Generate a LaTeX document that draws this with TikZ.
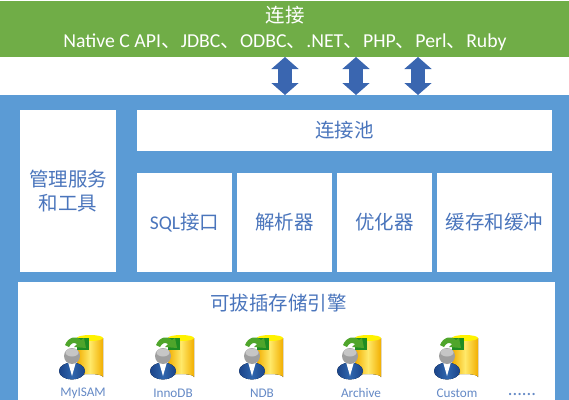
\documentclass[tikz,border=0pt]{standalone}
\usepackage{fontspec}
\setmainfont{Carlito}
\newfontfamily\cjk{Noto Sans CJK SC}
\usetikzlibrary{arrows.meta, positioning}
\definecolor{linkgreen}{HTML}{70AD47}
\definecolor{panelblue}{HTML}{5B9BD5}
\definecolor{titleblue}{HTML}{4A75BC}
\definecolor{arrowblue}{HTML}{3A66B0}
\definecolor{iconedge}{HTML}{F2AE00}
\definecolor{iconmid}{HTML}{FFE96A}
\definecolor{iconarrow}{HTML}{4FA52B}
\definecolor{iconsquare}{HTML}{1E8C22}
\definecolor{iconbody}{HTML}{2F66AE}
\definecolor{iconbodydark}{HTML}{1C4488}
\tikzstyle{banner} = [rectangle, anchor=north west, fill=linkgreen, minimum width=426.75pt, minimum height=42pt, inner sep=0pt, outer sep=0pt]
\tikzstyle{panel} = [rectangle, anchor=north west, fill=panelblue, minimum width=426.75pt, minimum height=228.75pt, inner sep=0pt, outer sep=0pt]
\tikzstyle{cell} = [rectangle, fill=white, text=titleblue, font=\fontsize{14.6pt}{18pt}\selectfont\cjk, align=center, inner sep=0pt, outer sep=0pt, minimum height=74.25pt, minimum width=71.25pt]
\tikzstyle{title} = [text=titleblue, font=\fontsize{14.6pt}{18pt}\selectfont\cjk, inner sep=0pt]
\tikzstyle{engine} = [text=titleblue!85, font=\fontsize{9.9pt}{12pt}\selectfont, inner sep=0pt]
\tikzstyle{arrow} = [arrowblue, line width=10pt, {Triangle[length=9pt,width=20pt]}-{Triangle[length=9pt,width=20pt]}]
\tikzset{
  dbicon/.pic={
    % cylinder
    \fill[left color=iconedge, right color=iconedge, middle color=iconmid] (18,3) -- (18,42) arc[start angle=180, end angle=360, x radius=13, y radius=3] -- (44,3) -- cycle;
    \fill[yellow] (31,3) ellipse (13 and 3);
    % green arrow
    \fill[iconsquare] (18,3) rectangle (30,15);
    \fill[iconarrow] (6,10) .. controls (9,2) and (18,0) .. (22,5) -- (25,3) -- (27,13) -- (15,12) -- (18,9) .. controls (15,7) and (12,8) .. (10,12) -- cycle;
    % person
    \fill[left color=iconbodydark, right color=iconbodydark, middle color=iconbody] (13,36) ellipse (13 and 8.5);
    \fill[white] (9,27) -- (17,27) -- (13,41) -- cycle;
    \fill[gray!75] (13,21) circle (8);
    \fill[gray!45] (13,17.5) ellipse (6.5 and 4);
  }
}
\begin{document}
\begin{tikzpicture}[x=0.75pt, y=-0.75pt]
        \useasboundingbox (0,0) rectangle (569,400);
        % Top band and main panel
        \node[banner] (client) at (0,1) {};
        \node[panel] (server) at (0,95) {};
        \node[white, font=\fontsize{14.6pt}{18pt}\selectfont\cjk, inner sep=0pt] (clienttitle) at (285,15) {连接};
        \node[white, font=\fontsize{14.8pt}{18pt}\selectfont, inner sep=0pt] (drivers) at (285,42) {Native C API{\cjk 、}JDBC{\cjk 、}ODBC{\cjk 、}.NET{\cjk 、}PHP{\cjk 、}Perl{\cjk 、}Ruby};

        \node[cell, anchor=north west, minimum width=72pt, minimum height=121.5pt] (manage) at (20,110) {管理服务\\和工具};
        \node[cell, anchor=north west, minimum width=311.25pt, minimum height=30.75pt] (pool) at (137,110) {连接池};
        \node[cell, below=16.5pt of pool.south west, anchor=north west] (sql) {{\fontspec{Carlito}SQL}接口};
        \node[cell, right=3.75pt of sql] (parser) {解析器};
        \node[cell, right=3.75pt of parser] (optimizer) {优化器};
        \node[cell, right=3.75pt of optimizer, minimum width=86.25pt] (cache) {缓存和缓冲};
        \node[cell, anchor=north west, minimum width=402.75pt, minimum height=88.5pt] (storage) at (18,282) {};
        \node[title, below=15.75pt of storage.north, xshift=-6pt, anchor=center] (storagetitle) {可拔插存储引擎};

        \draw[arrow] (285,0 |- client.south) -- (285,0 |- server.north);
        \draw[arrow] (356,0 |- client.south) -- (356,0 |- server.north);
        \draw[arrow] (418,0 |- client.south) -- (418,0 |- server.north);

        \foreach \x/\lx/\name in {59/83/MyISAM, 150/173/InnoDB, 239/262/NDB, 337/361/Archive, 434/457/Custom} {
            \pic at (\x,335) {dbicon};
            \node[engine] (\name) at (\lx,393) {\name};
        }
        \node[engine, font=\fontsize{14pt}{16pt}\selectfont] (more) at (522,395) {......};
    \end{tikzpicture}
\end{document}
